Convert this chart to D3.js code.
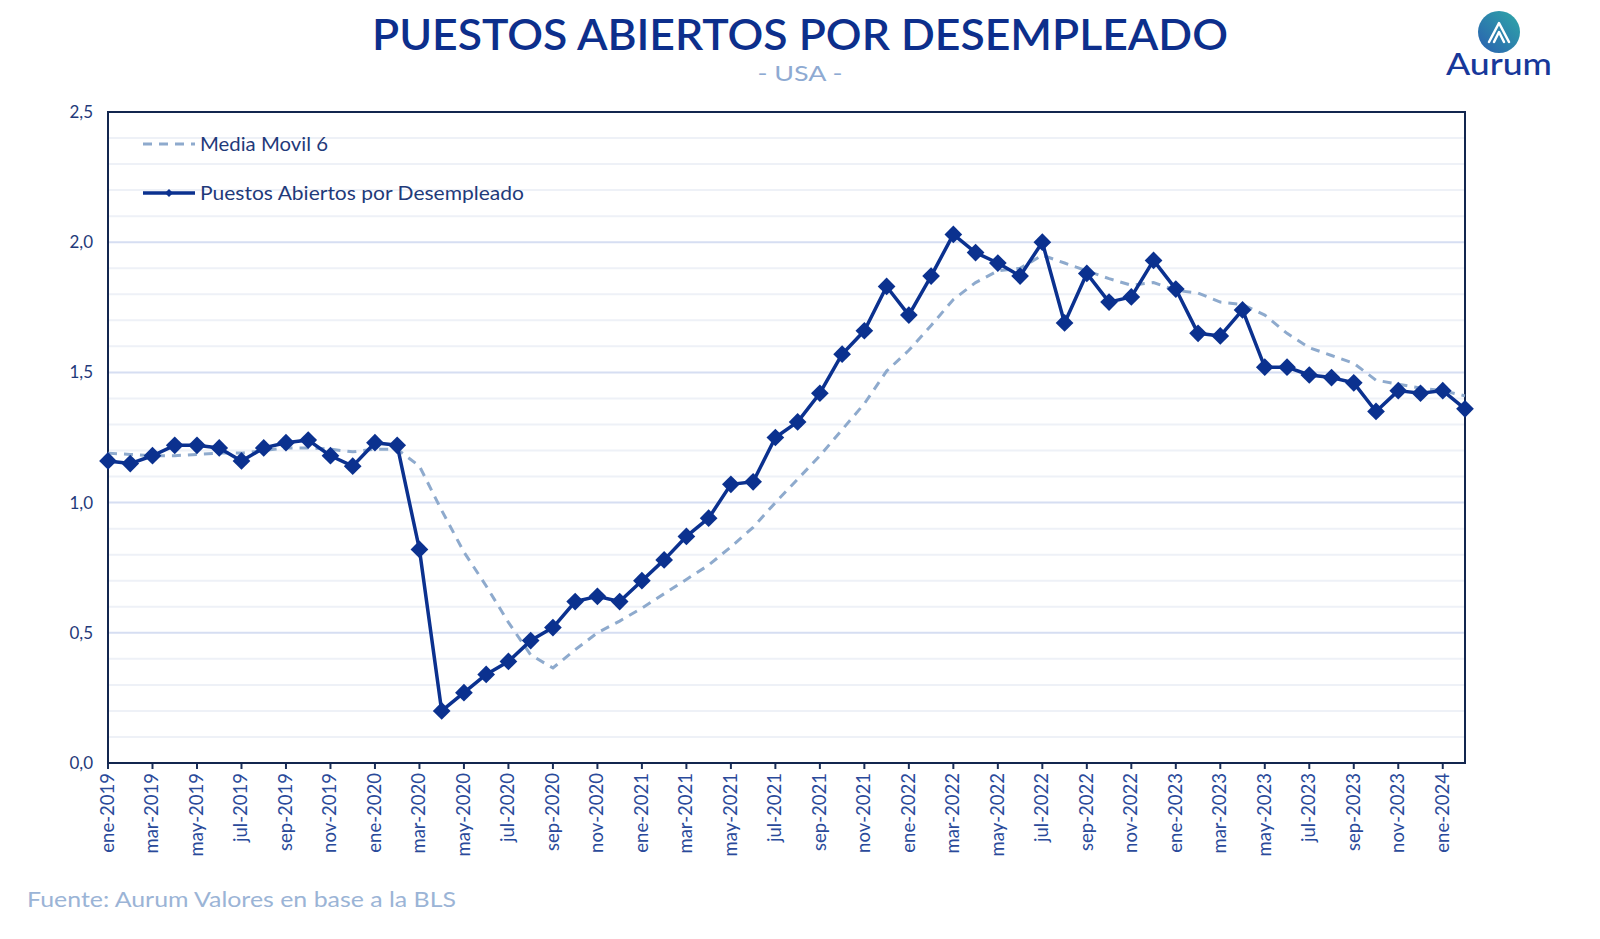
<!DOCTYPE html>
<html><head><meta charset="utf-8">
<script src="https://cdn.jsdelivr.net/npm/d3@7"></script>
<style>
body{margin:0;background:#fff;}
svg{display:block;font-family:Lato,"Noto Sans",sans-serif;}
</style></head>
<body><svg id="c" width="1600" height="939"></svg>
<script>
const monthNames = ["ene","feb","mar","abr","may","jun","jul","ago","sep","oct","nov","dic"];
const years = [2019,2020,2021,2022,2023,2024];
const nPoints = 62; // ene-2019 .. feb-2024
const puestos = [1.16,1.15,1.18,1.22,1.22,1.21,1.16,1.21,1.23,1.24,1.18,1.14,
  1.23,1.22,0.82,0.20,0.27,0.34,0.39,0.47,0.52,0.62,0.64,0.62,
  0.70,0.78,0.87,0.94,1.07,1.08,1.25,1.31,1.42,1.57,1.66,1.83,
  1.72,1.87,2.03,1.96,1.92,1.87,2.00,1.69,1.88,1.77,1.79,1.93,
  1.82,1.65,1.64,1.74,1.52,1.52,1.49,1.48,1.46,1.35,1.43,1.42,
  1.43,1.36];
const mediaMovil = [1.19,1.185,1.18,1.18,1.185,1.19,1.19,1.20,1.21,1.21,1.205,1.195,
  1.205,1.205,1.14,0.97,0.81,0.68,0.54,0.415,0.365,0.435,0.50,0.545,
  0.595,0.65,0.705,0.76,0.83,0.905,1.00,1.09,1.18,1.28,1.38,1.505,
  1.585,1.68,1.78,1.845,1.89,1.90,1.95,1.92,1.89,1.86,1.835,1.845,
  1.815,1.805,1.77,1.76,1.72,1.65,1.595,1.565,1.535,1.47,1.455,1.44,
  1.43,1.41];
const yTicks = [0,0.5,1.0,1.5,2.0,2.5];
const yMinor = d3.range(0,2.51,0.1);

const labels = d3.range(nPoints).map(i => monthNames[i%12] + "-" + years[Math.floor(i/12)]);

const svg = d3.select("#c");
const L=108, R=1465, T=112, B=763;
const x = d3.scaleLinear().domain([0,nPoints-1]).range([L,R]);
const y = d3.scaleLinear().domain([0,2.5]).range([B,T]);

// gridlines
svg.append("g").selectAll("line").data(yMinor).join("line")
  .attr("x1",L).attr("x2",R)
  .attr("y1",d=>y(d)).attr("y2",d=>y(d))
  .attr("stroke",d=> Math.abs(d*2-Math.round(d*2))<1e-6 ? "#d6def2" : "#eef1f7")
  .attr("stroke-width",2);

// y axis labels
svg.append("g").selectAll("text").data(yTicks).join("text")
  .attr("x",L-15).attr("y",d=>y(d)).attr("dy","0.35em")
  .attr("text-anchor","end").attr("fill","#1f3a7a").attr("font-size",17)
  .text(d=>d3.format(".1f")(d).replace(".",","));

// x axis ticks and labels every 2 months
const xTickIdx = d3.range(0,nPoints,2);
const xa = svg.append("g");
xa.selectAll("line").data(xTickIdx).join("line")
  .attr("x1",d=>x(d)).attr("x2",d=>x(d)).attr("y1",B).attr("y2",B+6)
  .attr("stroke","#1a2f5a").attr("stroke-width",2);
xa.selectAll("text").data(xTickIdx).join("text")
  .attr("transform",d=>`translate(${x(d)+6},${B+10}) rotate(-90)`)
  .attr("text-anchor","end").attr("fill","#2a4a9a").attr("font-size",18.5)
  .text(d=>labels[d]);

// frame
svg.append("rect").attr("x",L).attr("y",T).attr("width",R-L).attr("height",B-T)
  .attr("fill","none").attr("stroke","#13264f").attr("stroke-width",2);

// moving average
const line = d3.line().x((d,i)=>x(i)).y(d=>y(d));
svg.append("path").datum(mediaMovil).attr("d",line)
  .attr("fill","none").attr("stroke","#8eaacd").attr("stroke-width",3)
  .attr("stroke-dasharray","9,7");

// main series
svg.append("path").datum(puestos).attr("d",line)
  .attr("fill","none").attr("stroke","#0b318f").attr("stroke-width",3.5)
  .attr("stroke-linejoin","round");
const diamond = d3.symbol().type(d3.symbolDiamond2).size(200);
svg.append("g").selectAll("path").data(puestos).join("path")
  .attr("d",diamond)
  .attr("transform",(d,i)=>`translate(${x(i)},${y(d)})`)
  .attr("fill","#0b318f");

// legend
const lg = svg.append("g");
lg.append("line").attr("x1",143).attr("x2",195).attr("y1",144).attr("y2",144)
  .attr("stroke","#8eaacd").attr("stroke-width",3).attr("stroke-dasharray","9,7");
lg.append("text").attr("x",200).attr("y",144).attr("dy","0.35em")
  .attr("fill","#1f3a7a").attr("font-size",19)
  .attr("textLength",128).attr("lengthAdjust","spacingAndGlyphs").text("Media Movil 6");
lg.append("line").attr("x1",143).attr("x2",195).attr("y1",193).attr("y2",193)
  .attr("stroke","#0b318f").attr("stroke-width",3.5);
lg.append("path").attr("d",d3.symbol().type(d3.symbolDiamond2).size(40))
  .attr("transform","translate(169,193)").attr("fill","#0b318f");
lg.append("text").attr("x",200).attr("y",193).attr("dy","0.35em")
  .attr("fill","#1f3a7a").attr("font-size",19)
  .attr("textLength",324).attr("lengthAdjust","spacingAndGlyphs").text("Puestos Abiertos por Desempleado");

// titles
svg.append("text").attr("x",800).attr("y",50).attr("text-anchor","middle")
  .attr("fill","#0d2f8c").attr("font-size",42).attr("font-weight",600)
  .attr("textLength",856).attr("lengthAdjust","spacingAndGlyphs")
  .text("PUESTOS ABIERTOS POR DESEMPLEADO");
svg.append("text").attr("x",800).attr("y",81).attr("text-anchor","middle")
  .attr("fill","#8eaad2").attr("font-size",21)
  .attr("textLength",85).attr("lengthAdjust","spacingAndGlyphs").text("- USA -");

// source
svg.append("text").attr("x",27).attr("y",907)
  .attr("fill","#9bb4d6").attr("font-size",22)
  .attr("textLength",429).attr("lengthAdjust","spacingAndGlyphs")
  .text("Fuente: Aurum Valores en base a la BLS");

// logo
const defs = svg.append("defs");
const gr = defs.append("linearGradient").attr("id","lgc").attr("x1","0").attr("y1","1").attr("x2","1").attr("y2","0");
gr.append("stop").attr("offset","0").attr("stop-color","#2a5fb0");
gr.append("stop").attr("offset","1").attr("stop-color","#2fa8a8");
svg.append("circle").attr("cx",1499).attr("cy",32).attr("r",21).attr("fill","url(#lgc)");
svg.append("path").attr("d","M1489,42 L1499,23 L1509,42 M1494,42 L1499,32 L1504,42")
  .attr("fill","none").attr("stroke","#fff").attr("stroke-width",2.5).attr("stroke-linejoin","round").attr("stroke-linecap","round");
svg.append("text").attr("x",1499).attr("y",75).attr("text-anchor","middle")
  .attr("fill","#17389a").attr("font-size",30).attr("font-weight",500)
  .attr("textLength",106).attr("lengthAdjust","spacingAndGlyphs").text("Aurum");
</script></body></html>
